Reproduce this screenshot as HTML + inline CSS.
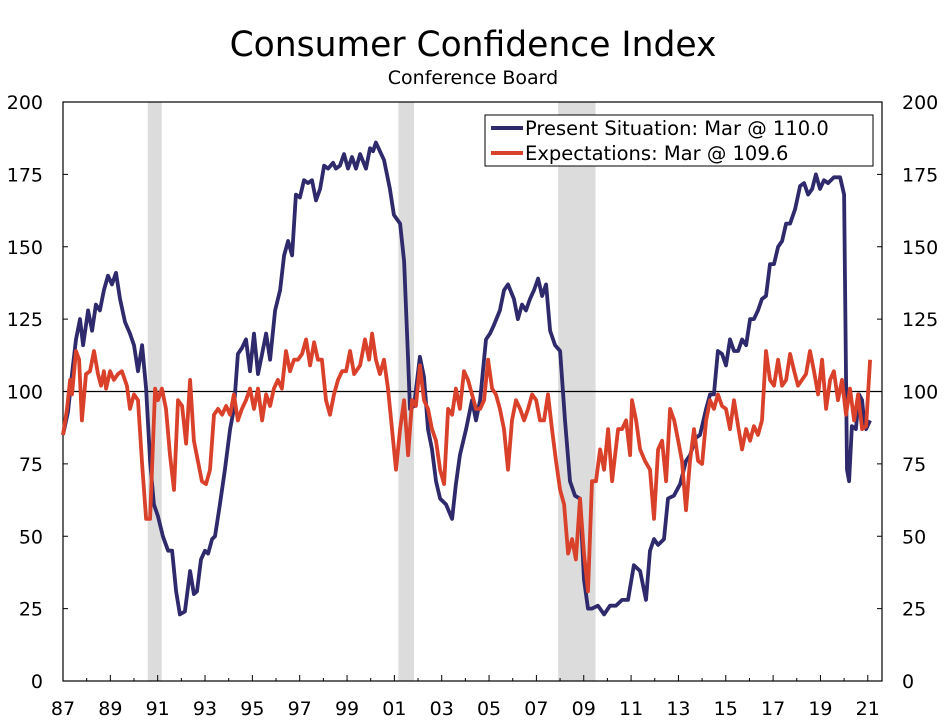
<!DOCTYPE html>
<html><head><meta charset="utf-8"><style>
body{margin:0;background:#fff;}
svg{display:block;font-family:"DejaVu Sans","Liberation Sans",sans-serif;}
</style></head><body>
<svg id="chart" width="947" height="727" viewBox="0 0 947 727">
<text x="473" y="56" text-anchor="middle" font-size="34.5">Consumer Confidence Index</text>
<text x="473" y="84" text-anchor="middle" font-size="19">Conference Board</text>
<g id="recessions"></g>
<g id="axes"></g>
<g id="series"></g>
<g>
<rect x="485" y="115" width="388" height="51" fill="#fff" stroke="#000" stroke-width="1"/>
<line x1="491" y1="128" x2="523" y2="128" stroke="#2e2a6b" stroke-width="4"/>
<text x="525" y="135" font-size="19.5">Present Situation: Mar @ 110.0</text>
<line x1="491" y1="153" x2="523" y2="153" stroke="#d9412b" stroke-width="4"/>
<text x="525" y="160" font-size="19.5">Expectations: Mar @ 109.6</text>
</g>
</svg>
<script>
const yTicks=[0,25,50,75,100,125,150,175,200];
const xTickLabels=["87","89","91","93","95","97","99","01","03","05","07","09","11","13","15","17","19","21"];
const xTickYears=[1987,1989,1991,1993,1995,1997,1999,2001,2003,2005,2007,2009,2011,2013,2015,2017,2019,2021];
const recStart=[1990.58,2001.17,2007.92];
const recEnd=[1991.17,2001.83,2009.5];
const psDates=[1987.00,1987.21,1987.38,1987.55,1987.72,1987.85,1988.06,1988.23,1988.39,1988.56,1988.73,1988.90,1989.07,1989.24,1989.41,1989.62,1989.83,1990.00,1990.17,1990.34,1990.51,1990.68,1990.84,1991.01,1991.22,1991.44,1991.61,1991.78,1991.94,1992.15,1992.37,1992.53,1992.66,1992.83,1993.00,1993.13,1993.30,1993.42,1993.63,1993.84,1994.06,1994.22,1994.39,1994.56,1994.73,1994.90,1995.07,1995.24,1995.41,1995.58,1995.75,1995.96,1996.17,1996.34,1996.51,1996.68,1996.84,1997.01,1997.18,1997.35,1997.52,1997.69,1997.86,1998.03,1998.20,1998.41,1998.53,1998.70,1998.87,1999.04,1999.21,1999.38,1999.55,1999.80,1999.97,2000.10,2000.22,2000.39,2000.56,2000.81,2000.98,2001.24,2001.41,2001.58,2001.66,2001.83,2002.08,2002.25,2002.42,2002.59,2002.76,2002.93,2003.18,2003.44,2003.60,2003.77,2004.03,2004.28,2004.45,2004.62,2004.87,2005.04,2005.21,2005.46,2005.63,2005.80,2006.05,2006.22,2006.39,2006.56,2006.73,2006.90,2007.07,2007.24,2007.41,2007.58,2007.79,2008.00,2008.21,2008.42,2008.63,2008.84,2009.01,2009.18,2009.35,2009.60,2009.86,2010.11,2010.36,2010.62,2010.87,2011.12,2011.38,2011.63,2011.80,2011.97,2012.14,2012.39,2012.56,2012.81,2013.07,2013.32,2013.49,2013.74,2013.91,2014.17,2014.34,2014.50,2014.67,2014.84,2015.01,2015.18,2015.35,2015.52,2015.69,2015.86,2016.03,2016.19,2016.36,2016.53,2016.70,2016.87,2017.04,2017.21,2017.38,2017.55,2017.72,2017.93,2018.14,2018.31,2018.48,2018.65,2018.81,2018.98,2019.15,2019.32,2019.57,2019.83,2020.00,2020.12,2020.21,2020.33,2020.50,2020.63,2020.76,2020.84,2020.93,2021.10];
const psValues=[85,93,106,118,125,116,128,121,130,128,135,140,137,141,132,124,120,116,107,116,101,76,61,57,50,45,45,31,23,24,38,30,31,42,45,44,49,50,61,73,87,94,113,115,118,107,120,106,113,120,111,128,135,147,152,147,168,167,173,172,173,166,170,178,177,179,177,178,182,177,181,177,182,177,184,183,186,183,180,170,161,158,145,111,94,95,112,105,87,80,69,63,61,56,68,78,87,97,90,97,118,120,123,128,135,137,132,125,130,128,132,135,139,133,137,121,116,114,90,69,64,63,35,25,25,26,23,26,26,28,28,40,38,28,45,49,47,49,63,64,68,76,78,84,85,94,99,99,114,113,109,118,114,114,118,116,125,125,128,132,133,144,144,150,152,158,158,163,171,172,168,170,175,170,173,172,174,174,168,73,69,88,87,99,97,90,87,90];
const exDates=[1987.00,1987.17,1987.30,1987.38,1987.55,1987.68,1987.80,1987.97,1988.14,1988.31,1988.48,1988.61,1988.73,1988.82,1988.99,1989.15,1989.32,1989.49,1989.70,1989.83,1990.00,1990.17,1990.34,1990.51,1990.68,1990.89,1991.01,1991.18,1991.35,1991.52,1991.69,1991.86,1992.03,1992.20,1992.37,1992.53,1992.70,1992.87,1993.04,1993.21,1993.38,1993.55,1993.72,1993.89,1994.06,1994.22,1994.39,1994.56,1994.73,1994.90,1995.07,1995.24,1995.41,1995.58,1995.75,1995.91,1996.08,1996.25,1996.42,1996.59,1996.76,1996.93,1997.10,1997.27,1997.44,1997.61,1997.77,1997.94,1998.11,1998.28,1998.45,1998.62,1998.79,1998.96,1999.13,1999.30,1999.55,1999.76,1999.93,2000.06,2000.22,2000.39,2000.56,2000.73,2000.90,2001.07,2001.24,2001.41,2001.58,2001.75,2001.91,2002.08,2002.25,2002.42,2002.59,2002.76,2002.93,2003.10,2003.27,2003.44,2003.60,2003.77,2003.94,2004.11,2004.28,2004.45,2004.62,2004.79,2004.96,2005.13,2005.29,2005.46,2005.63,2005.80,2005.97,2006.14,2006.31,2006.48,2006.65,2006.82,2006.99,2007.15,2007.32,2007.49,2007.66,2007.83,2008.00,2008.17,2008.34,2008.51,2008.67,2008.84,2009.01,2009.18,2009.35,2009.52,2009.69,2009.86,2010.03,2010.20,2010.45,2010.62,2010.79,2010.96,2011.04,2011.21,2011.38,2011.59,2011.80,2011.97,2012.14,2012.31,2012.48,2012.65,2012.82,2012.99,2013.15,2013.32,2013.49,2013.66,2013.83,2014.00,2014.17,2014.34,2014.50,2014.67,2014.84,2015.01,2015.18,2015.35,2015.52,2015.69,2015.86,2016.03,2016.19,2016.36,2016.53,2016.70,2016.87,2017.04,2017.21,2017.38,2017.55,2017.72,2017.89,2018.05,2018.22,2018.39,2018.56,2018.73,2018.90,2019.07,2019.24,2019.41,2019.57,2019.74,2019.91,2020.08,2020.25,2020.42,2020.59,2020.76,2020.93,2021.10];
const exValues=[85,94,104,99,114,111,90,106,107,114,106,102,107,101,107,104,106,107,102,94,99,97,75,56,56,101,97,101,94,78,66,97,95,82,104,83,76,69,68,73,92,94,92,95,92,99,90,94,97,101,94,101,90,99,95,101,104,101,114,107,111,111,113,118,109,117,111,111,97,92,99,104,107,107,114,106,109,118,111,120,111,106,111,101,87,73,87,97,78,97,95,109,97,94,87,83,73,68,94,92,101,94,107,104,99,94,94,97,111,101,99,94,87,73,90,97,94,90,94,99,97,90,90,99,87,76,66,61,44,49,42,63,44,31,69,69,80,73,87,69,87,87,90,78,97,90,80,76,73,56,80,83,69,94,90,83,76,59,76,87,76,75,90,97,94,99,95,94,87,97,88,80,87,83,88,85,90,114,104,102,111,102,104,113,107,102,104,106,114,107,99,111,94,104,107,97,104,92,101,90,99,87,88,111];

const NS="http://www.w3.org/2000/svg";
const L=63,R=882,T=102,B=681;
function xs(yr){return L+(yr-1987)*23.67;}
function ys(v){return B-(v/200)*(B-T);}
function mk(tag,attrs,parent){const e=document.createElementNS(NS,tag);for(const k in attrs)e.setAttribute(k,attrs[k]);parent.appendChild(e);return e;}
const rec=document.getElementById('recessions');
for(let i=0;i<recStart.length;i++){
  const r=mk('rect',{x:xs(recStart[i]),y:T,width:xs(recEnd[i])-xs(recStart[i]),height:B-T,fill:'#dcdcdc'},rec);
  
  
}
const ax=document.getElementById('axes');
const frame=mk('rect',{x:L,y:T,width:R-L,height:B-T,fill:'none',stroke:'#000','stroke-width':1.2},ax);


const ref=mk('line',{x1:L,x2:R,y1:ys(100),y2:ys(100),stroke:'#000','stroke-width':1.2},ax);


yTicks.forEach(v=>{
  mk('line',{x1:L,x2:L+5,y1:ys(v),y2:ys(v),stroke:'#000'},ax);
  mk('line',{x1:R-5,x2:R,y1:ys(v),y2:ys(v),stroke:'#000'},ax);
  const t1=mk('text',{x:43,y:ys(v)+7,'text-anchor':'end','font-size':19},ax);t1.textContent=v;
  
  
  const t2=mk('text',{x:902,y:ys(v)+7,'text-anchor':'start','font-size':19},ax);t2.textContent=v;
  
  
});
for(let y=1987;y<=2021;y++){mk('line',{x1:xs(y),x2:xs(y),y1:B,y2:B-(y%2?6:3),stroke:'#000'},ax);}
xTickYears.forEach((yr,i)=>{
  const t=mk('text',{x:xs(yr),y:715,'text-anchor':'middle','font-size':19},ax);t.textContent=xTickLabels[i];
  
  
});
const sg=document.getElementById('series');
function line(d,v,color,name){
  const pts=d.map((yr,i)=>xs(yr).toFixed(1)+','+ys(v[i]).toFixed(1)).join(' ');
  const p=mk('polyline',{points:pts,fill:'none',stroke:color,'stroke-width':3.8,'stroke-linejoin':'round'},sg);
  
  
}
line(psDates,psValues,'#2e2a6b','present-situation-line');
line(exDates,exValues,'#d9412b','expectations-line');
</script>
</body></html>
